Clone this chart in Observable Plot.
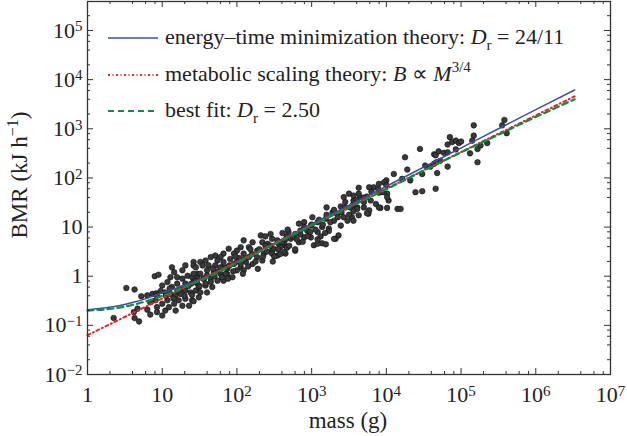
<!DOCTYPE html>
<html>
<head>
<meta charset="utf-8">
<script src="https://cdn.jsdelivr.net/npm/d3@7"></script>
<script src="https://cdn.jsdelivr.net/npm/@observablehq/plot@0.6"></script>
<style>
  html, body { margin: 0; padding: 0; background: #fff; }
  #chart { width: 627px; height: 436px; }
  svg { font-family: "Liberation Serif", "Times New Roman", serif; }
</style>
</head>
<body>
<div id="chart"></div>
<script>
// ---- data (log10 values) ----
const massLog10 = [
  0.52,0.63,0.35,0.63,0.69,0.62,0.67,0.72,0.90,0.95,
  0.80,0.87,0.92,0.84,0.91,0.93,1.00,1.04,0.93,1.13,
  1.16,1.27,1.42,1.31,1.00,1.07,1.13,1.20,1.27,1.34,
  1.40,1.47,1.04,1.11,1.18,1.25,1.31,1.38,1.45,1.22,
  1.31,1.40,1.07,1.16,1.09,1.18,1.00,1.27,1.36,0.93,
  1.47,1.42,1.49,1.31,1.20,1.11,1.42,0.80,0.84,
  2.61,2.67,2.47,2.32,2.34,2.41,2.56,2.63,2.21,2.09,
  2.16,2.27,2.36,2.47,2.54,2.65,2.05,2.00,2.09,2.16,
  2.27,1.89,1.96,2.03,2.12,2.21,2.34,1.82,1.78,1.91,
  1.71,1.65,1.74,1.82,1.96,2.05,2.09,1.94,1.58,1.51,
  1.42,1.45,1.54,1.62,1.71,1.80,1.87,2.00,1.60,1.69,
  1.78,1.87,1.51,1.42,1.47,1.56,1.65,1.74,1.82,1.58,
  1.49,1.39,1.67,1.51,1.60,1.85,2.45,2.38,
  3.63,3.50,3.65,3.74,3.56,3.45,3.39,3.52,3.61,3.70,
  3.20,3.28,3.34,3.43,3.54,3.63,3.76,3.48,3.56,3.30,
  3.19,3.01,3.08,2.90,2.83,2.99,3.14,3.23,3.39,2.94,
  2.85,3.08,3.23,2.69,2.78,2.72,2.90,2.99,3.12,3.36,
  3.32,2.54,2.63,2.83,3.03,3.14,3.08,2.58,2.67,2.49,
  2.63,2.47,2.78,
  4.85,4.82,4.70,4.77,4.64,4.45,4.25,4.28,4.10,4.52,
  4.59,4.48,4.68,4.39,4.48,4.66,4.21,4.32,4.00,3.97,
  3.90,3.83,3.89,4.01,3.95,3.77,3.63,3.56,3.70,3.79,
  3.86,3.92,4.01,4.15,4.19,3.61,3.56,3.77,4.03,5.58,
  5.55,5.61,5.17,5.17,5.22,5.22,4.88,4.66,4.64,4.72,
  4.82,4.93,4.97,5.00,4.93,4.82,5.12,5.15,5.26,5.35,
  4.67,3.43,3.90,4.01,3.74,3.19,3.30,
  1.55,1.60,1.65,1.70,1.75,1.80,1.85,1.90,1.95,2.00,
  2.05,2.10,2.15,2.20,2.25,2.30,2.35,2.40,2.45,2.50,
  2.55,2.60,2.65,2.70,2.75,2.80,2.85,2.90,2.95,3.00,
  3.05,3.10,3.15,3.20,3.25,3.30,3.35,3.40,3.45,3.50,
  3.55,3.60,3.70,3.80,3.90,4.00,1.20,1.25,1.30,1.35,
  1.40,1.45,1.50,1.10,1.15,1.05,0.98,1.58,1.68,1.78,
  1.88,1.98,2.08,2.18,2.28,2.38,2.48,2.58,2.68,2.78,
  2.88,2.98,3.08,3.18
];
const bmrLog10 = [
  -0.24,-0.27,-0.85,-0.85,-0.92,-0.73,-0.66,-0.41,0.00,0.03,
  -0.39,-0.36,-0.35,-0.53,-0.49,-0.63,-0.56,-0.70,-0.73,0.18,
  0.08,0.12,0.29,0.22,-0.19,-0.12,-0.22,-0.15,-0.05,0.01,
  -0.02,0.05,-0.33,-0.36,-0.39,-0.36,-0.29,-0.33,-0.29,-0.49,
  -0.46,-0.49,-0.49,-0.56,-0.63,-0.70,-0.80,-0.60,-0.60,-0.39,
  -0.15,-0.12,-0.43,-0.15,-0.02,-0.02,-0.51,-0.68,-0.78,
  0.88,0.81,0.76,0.83,0.69,0.66,0.66,0.63,0.69,0.73,
  0.59,0.52,0.46,0.52,0.42,0.46,0.59,0.52,0.46,0.39,
  0.39,0.56,0.46,0.37,0.29,0.25,0.32,0.46,0.39,0.35,
  0.42,0.39,0.32,0.29,0.25,0.18,0.12,-0.02,0.32,0.29,
  0.22,0.18,0.22,0.22,0.22,0.18,0.15,0.12,0.12,0.08,
  0.05,0.04,0.05,0.05,-0.05,-0.05,-0.05,-0.09,-0.09,-0.19,
  -0.22,-0.15,-0.22,-0.33,-0.33,0.18,0.86,0.81,
  1.80,1.68,1.61,1.62,1.54,1.51,1.42,1.40,1.40,1.40,
  1.40,1.30,1.27,1.20,1.20,1.24,1.27,1.13,1.13,1.13,
  1.17,1.20,1.10,1.10,1.07,1.03,1.00,0.97,1.03,0.93,
  0.93,0.90,0.92,0.90,0.86,0.76,0.79,0.79,0.81,0.83,
  0.76,0.73,0.69,0.69,0.63,0.67,0.66,0.59,0.58,0.56,
  0.49,0.46,0.52,
  2.83,2.68,2.54,2.51,2.48,2.59,2.42,2.17,2.08,2.25,
  2.23,2.08,2.10,1.71,1.73,1.78,1.98,1.95,1.95,1.91,
  1.88,1.81,1.78,1.68,1.71,1.81,1.68,1.64,1.51,1.54,
  1.47,1.39,1.39,1.37,1.37,1.37,1.32,1.34,1.54,3.18,
  3.07,2.91,3.07,2.86,2.59,2.32,2.73,2.46,2.29,2.35,
  2.52,2.76,2.71,2.74,2.58,2.23,2.50,2.76,2.66,2.71,
  2.32,1.61,1.40,1.61,1.28,0.65,0.76,
  -0.05,0.02,-0.12,0.00,0.10,-0.02,0.05,0.22,0.10,0.30,
  0.25,0.35,0.20,0.45,0.30,0.55,0.40,0.50,0.62,0.40,
  0.55,0.70,0.75,0.62,0.80,0.75,0.85,1.00,0.82,1.05,
  0.95,1.15,1.05,1.25,1.10,1.35,1.20,1.30,1.40,1.25,
  1.45,1.55,1.60,1.72,1.70,1.85,-0.30,-0.25,-0.40,-0.20,
  -0.38,-0.10,-0.20,-0.25,-0.45,-0.40,-0.30,-0.15,0.15,0.18,
  -0.05,0.40,0.05,0.55,0.15,0.62,0.30,0.45,0.95,0.55,
  0.70,0.90,0.75,0.88
];

// model curves (log10 mass vs log10 BMR)
const curveMassLog10   = [0, 0.42, 0.64, 0.87, 1.09, 1.31, 1.51, 2, 2.5, 3, 3.5, 4, 4.5, 5, 5.5, 6, 6.52];
const energyTimeLog10  = [-0.68,-0.60,-0.52,-0.41,-0.29,-0.18,-0.06,0.29,0.67,1.06,1.44,1.83,2.22,2.61,3.00,3.39,3.79];
const bestFitLog10     = [-0.70,-0.64,-0.57,-0.47,-0.35,-0.21,-0.09,0.27,0.65,1.03,1.40,1.77,2.15,2.52,2.88,3.24,3.60];
const metabolicMassLog10 = [0, 6.52];
const metabolicLog10     = [-1.20, 3.66];

// axes
const xMajor = [1, 10, 100, 1e3, 1e4, 1e5, 1e6, 1e7];
const yMajor = [1e-2, 1e-1, 1, 10, 100, 1e3, 1e4, 1e5];
const minorMultipliers = [2, 4, 6, 8];
const xLabel = "mass (g)";
const yLabelMain = "BMR (kJ h";
const yLabelSup = "−1";
const legendTexts = ["energy–time minimization theory: ", "metabolic scaling theory: ", "best fit: "];

// ---- build ----
const points = massLog10.map((m, i) => ({mass: 10 ** m, bmr: 10 ** bmrLog10[i]}));
const energyTime = curveMassLog10.map((m, i) => ({mass: 10 ** m, bmr: 10 ** energyTimeLog10[i]}));
const bestFit = curveMassLog10.map((m, i) => ({mass: 10 ** m, bmr: 10 ** bestFitLog10[i]}));
const metabolic = metabolicMassLog10.map((m, i) => ({mass: 10 ** m, bmr: 10 ** metabolicLog10[i]}));

const W = 627, H = 436, mT = 1, mB = 62, mL = 87, mR = 17;
const FW = W - mL - mR, FH = H - mT - mB;
const yTop = 10 ** 5.59;
const xMinor = xMajor.slice(0, -1).flatMap(d => minorMultipliers.map(k => k * d));
const yMinor = yMajor.flatMap(d => minorMultipliers.map(k => k * d)).filter(v => v < yTop);

const fmt = d => {
  const e = Math.round(Math.log10(d));
  if (e === 0) return "1";
  if (e === 1) return "10";
  return "10^" + (e < 0 ? "−" + (-e) : String(e));
};

const axisColor = "#333";
const BLUE = "#3d4f9f", RED = "#e2252b", GREEN = "#138a43";

const chart = Plot.plot({
  width: W, height: H,
  marginTop: mT, marginBottom: mB, marginLeft: mL, marginRight: mR,
  style: {fontFamily: "Liberation Serif, Times New Roman, serif", fontSize: "22px", background: "#fff", color: "#222"},
  x: {type: "log", domain: [1, 1e7]},
  y: {type: "log", domain: [1e-2, yTop]},
  marks: [
    Plot.dot(points, {x: "mass", y: "bmr", r: 2.8, fill: "#3a3a3a", stroke: "#0e0e0e", strokeWidth: 0.6}),
    Plot.line(energyTime, {x: "mass", y: "bmr", stroke: BLUE, strokeWidth: 1.5, curve: "monotone-x"}),
    Plot.line(metabolic, {x: "mass", y: "bmr", stroke: RED, strokeWidth: 2, strokeDasharray: "3,3,1,3"}),
    Plot.line(bestFit, {x: "mass", y: "bmr", stroke: GREEN, strokeWidth: 2.2, strokeDasharray: "6,4", curve: "monotone-x"}),
    // inward ticks on all four sides
    Plot.ruleX(xMajor, {stroke: axisColor, strokeWidth: 1, insetTop: FH - 6}),
    Plot.ruleX(xMajor, {stroke: axisColor, strokeWidth: 1, insetBottom: FH - 6}),
    Plot.ruleX(xMinor, {stroke: axisColor, strokeWidth: 1, insetTop: FH - 3}),
    Plot.ruleX(xMinor, {stroke: axisColor, strokeWidth: 1, insetBottom: FH - 3}),
    Plot.ruleY(yMajor, {stroke: axisColor, strokeWidth: 1, insetRight: FW - 6}),
    Plot.ruleY(yMajor, {stroke: axisColor, strokeWidth: 1, insetLeft: FW - 6}),
    Plot.ruleY(yMinor, {stroke: axisColor, strokeWidth: 1, insetRight: FW - 3}),
    Plot.ruleY(yMinor, {stroke: axisColor, strokeWidth: 1, insetLeft: FW - 3}),
    Plot.frame({stroke: axisColor, strokeWidth: 1.3}),
    Plot.axisX(xMajor, {tickSize: 0, tickPadding: 12, tickFormat: fmt, label: null, fontSize: 22}),
    Plot.axisY(yMajor, {tickSize: 0, tickPadding: 5, tickFormat: fmt, label: null, fontSize: 22})
  ]
});
document.getElementById("chart").appendChild(chart);

// superscripts in tick labels
const NS = "http://www.w3.org/2000/svg";
for (const t of chart.querySelectorAll("text")) {
  const m = t.textContent.match(/^10\^(.+)$/);
  if (!m) continue;
  t.textContent = "";
  const a = document.createElementNS(NS, "tspan"); a.textContent = "10"; t.appendChild(a);
  const b = document.createElementNS(NS, "tspan");
  b.setAttribute("dy", "-0.42em"); b.setAttribute("font-size", "15px"); b.textContent = m[1];
  t.appendChild(b);
}

const svg = d3.select(chart);
const font = "Liberation Serif, Times New Roman, serif";
// axis titles
svg.append("text").attr("x", 348).attr("y", 428).attr("text-anchor", "middle")
  .attr("font-family", font).attr("font-size", 23).attr("fill", "#222").text(xLabel);
const yl = svg.append("text").attr("transform", "translate(27,175) rotate(-90)").attr("text-anchor", "middle")
  .attr("font-family", font).attr("font-size", 23).attr("fill", "#222");
yl.append("tspan").text(yLabelMain);
yl.append("tspan").attr("dy", -9).attr("font-size", 16).text(yLabelSup);
yl.append("tspan").attr("dy", 9).text(")");

// legend
const lg = svg.append("g").attr("font-family", font).attr("font-size", 22).attr("fill", "#222")
  .attr("text-anchor", "start");
const rows = [
  {base: 43.5, color: BLUE, dash: null, width: 1.5},
  {base: 80.5, color: RED, dash: "2,2.5,1,2.5", width: 2},
  {base: 116.5, color: GREEN, dash: "6,4", width: 2.2}
];
rows.forEach((r, i) => {
  lg.append("line").attr("x1", 108).attr("x2", 158).attr("y1", r.base - 5.5).attr("y2", r.base - 5.5)
    .attr("stroke", r.color).attr("stroke-width", r.width).attr("stroke-dasharray", r.dash);
  const t = lg.append("text").attr("x", 165).attr("y", r.base).attr("text-anchor", "start");
  t.append("tspan").text(legendTexts[i]);
  if (i === 1) {
    t.append("tspan").attr("font-style", "italic").text("B");
    t.append("tspan").text(" ∝ ");
    t.append("tspan").attr("font-style", "italic").text("M");
    t.append("tspan").attr("dy", -9).attr("font-size", 15).text("3/4");
  } else {
    t.append("tspan").attr("font-style", "italic").text("D");
    t.append("tspan").attr("dy", 6).attr("font-size", 15).text("r");
    t.append("tspan").attr("dy", -6).text(i === 0 ? " = 24/11" : " = 2.50");
  }
});
</script>
</body>
</html>
